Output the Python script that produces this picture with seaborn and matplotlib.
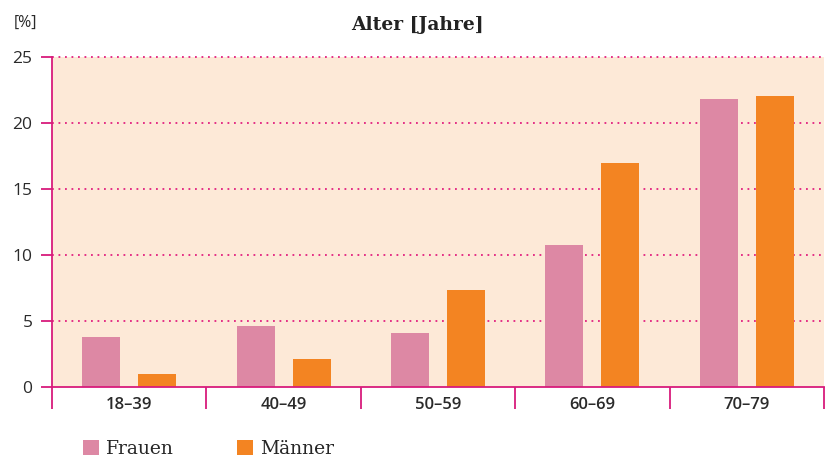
"""Balkendiagramm: Anteil nach Altersgruppe und Geschlecht."""

import pandas as pd
import matplotlib.pyplot as plt
import seaborn as sns
from matplotlib.patches import Patch

altersgruppen = ["18–39", "40–49", "50–59", "60–69", "70–79"]
frauen = [3.8, 4.6, 4.1, 10.75, 21.8]
maenner = [1.0, 2.1, 7.35, 17.0, 22.05]
geschlechter = ["Frauen", "Männer"]
y_ticks = [0, 5, 10, 15, 20, 25]

MAGENTA = "#d81b7c"
BG = "#fde9d7"
farben = {"Frauen": "#dd88a4", "Männer": "#f38422"}

df = pd.DataFrame({
    "Alter": altersgruppen * 2,
    "Geschlecht": [geschlechter[0]] * 5 + [geschlechter[1]] * 5,
    "Wert": frauen + maenner,
})

sns.set_style("white")
plt.rcParams["font.family"] = ["Open Sans", "DejaVu Sans"]

fig = plt.figure(figsize=(8.29, 4.57), dpi=100)
ax = fig.add_axes([0.0627, 0.1532, 0.9313, 0.7221])
ax.set_facecolor(BG)

sns.barplot(
    data=df, x="Alter", y="Wert", hue="Geschlecht", order=altersgruppen,
    hue_order=geschlechter, palette=farben, width=0.725, gap=0.32,
    saturation=1, legend=False, ax=ax, zorder=3, linewidth=0, edgecolor="none",
)

ax.set_xlim(-0.5, len(altersgruppen) - 0.5)
ax.set_ylim(0, 25)
ax.set_yticks(y_ticks)
ax.set_xlabel("")
ax.set_ylabel("")

# gepunktete Hilfslinien
for y in y_ticks[1:]:
    ax.axhline(y, color="#e2207f", lw=1.3, ls=(0, (1, 2.6)), zorder=1,
               clip_on=False)

for side in ["top", "right"]:
    ax.spines[side].set_visible(False)
for side in ["left", "bottom"]:
    ax.spines[side].set_color(MAGENTA)
    ax.spines[side].set_linewidth(1.3)
    ax.spines[side].set_zorder(4)

ax.tick_params(axis="y", left=True, length=8, width=1.3, color=MAGENTA,
               labelsize=12.5, labelcolor="#2a2a2a", pad=6)
ax.tick_params(axis="x", which="major", bottom=False, labelsize=12,
               labelcolor="#2a2a2a", pad=4)
ax.set_xticks([i - 0.5 for i in range(len(altersgruppen) + 1)], minor=True)
ax.tick_params(axis="x", which="minor", bottom=True, length=16, width=1.3,
               color=MAGENTA)
for lbl in ax.get_xticklabels():
    lbl.set_fontweight("semibold")

fig.text(0.504, 0.945, "Alter [Jahre]", ha="center", va="center",
         fontsize=13.5, fontweight="bold", family="DejaVu Serif", color="#222222")
fig.text(0.016, 0.95, "[%]", ha="left", va="center", fontsize=11.5,
         color="#2a2a2a")

handles = [Patch(facecolor=farben[g], edgecolor="none") for g in geschlechter]
fig.legend(handles, geschlechter, loc="lower left", bbox_to_anchor=(0.08, -0.04),
           ncol=2, frameon=False, handlelength=0.85, handleheight=0.85,
           handletextpad=0.35, columnspacing=3.4,
           prop={"family": "DejaVu Serif", "size": 13.5})

plt.savefig("out.png", dpi=100)
